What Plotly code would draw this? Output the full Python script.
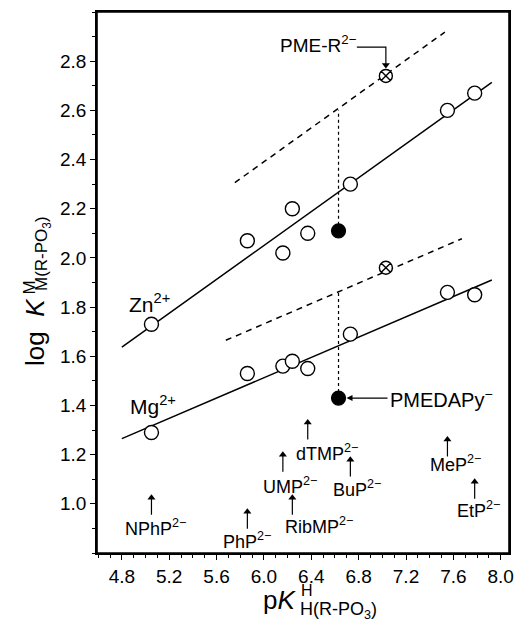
import plotly.graph_objects as go

# ---------------- data ----------------
compounds = ["NPhP", "PhP", "UMP", "RibMP", "dTMP", "BuP", "MeP", "EtP"]
pk_values = [5.05, 5.86, 6.16, 6.24, 6.37, 6.73, 7.55, 7.78]
logk_zn = [1.73, 2.07, 2.02, 2.20, 2.10, 2.30, 2.60, 2.67]
logk_mg = [1.29, 1.53, 1.56, 1.58, 1.55, 1.69, 1.86, 1.85]

pme_r_pk = [7.03, 7.03]
pme_r_logk = [2.74, 1.96]          # Zn, Mg
pmedapy_pk = [6.63, 6.63]
pmedapy_logk = [2.11, 1.43]        # Zn, Mg

zn_fit_x = [4.80, 7.925]
zn_fit_y = [1.637, 2.714]
zn_ref_x = [5.754, 7.528]
zn_ref_y = [2.306, 2.918]
mg_fit_x = [4.80, 7.925]
mg_fit_y = [1.265, 1.910]
mg_ref_x = [5.678, 7.672]
mg_ref_y = [1.665, 2.078]
zn_drop_y = [2.11, 2.60]
mg_drop_y = [1.43, 1.86]

x_ticks = [4.8, 5.2, 5.6, 6.0, 6.4, 6.8, 7.2, 7.6, 8.0]
y_ticks = [1.0, 1.2, 1.4, 1.6, 1.8, 2.0, 2.2, 2.4, 2.6, 2.8]

# ---------------- styling ----------------
FONT = "Liberation Sans, Arial, Helvetica, sans-serif"
BLACK = "#000000"
W, H = 518, 621
ML, MR, MT, MB = 97, 9, 12, 68
PW, PH = W - ML - MR, H - MT - MB
X_RANGE = [4.59, 8.07]
Y_RANGE = [0.8, 3.0]
Y_PER_PX = (Y_RANGE[1] - Y_RANGE[0]) / PH


def px_x(p):
    return (p - ML) / PW


def px_y(p):
    return (H - MB - p) / PH


fig = go.Figure()

line_sets = [
    (zn_fit_x, zn_fit_y, "solid"),
    (zn_ref_x, zn_ref_y, "dash"),
    (mg_fit_x, mg_fit_y, "solid"),
    (mg_ref_x, mg_ref_y, "dash"),
]
for lx, ly, dash in line_sets:
    fig.add_trace(go.Scatter(x=lx, y=ly, mode="lines",
                             line=dict(color=BLACK, width=1.5,
                                       dash="6px,5px" if dash == "dash" else "solid"),
                             hoverinfo="skip", showlegend=False))

for dy in (zn_drop_y, mg_drop_y):
    fig.add_trace(go.Scatter(x=[pmedapy_pk[0], pmedapy_pk[0]], y=dy, mode="lines",
                             line=dict(color=BLACK, width=1.2, dash="dot"),
                             hoverinfo="skip", showlegend=False))

TRI = 7            # arrow-head marker size (px)
TIP = 0.58 * TRI   # distance from marker centre to its tip (px)

# PME-R bent arrow (horizontal then down onto the crossed circle)
pme_tip = pme_r_logk[0] + 7 * Y_PER_PX
fig.add_trace(go.Scatter(x=[6.785, pme_r_pk[0], pme_r_pk[0]],
                         y=[2.857, 2.857, pme_tip + TIP * Y_PER_PX],
                         mode="lines", line=dict(color=BLACK, width=1.2),
                         hoverinfo="skip", showlegend=False))
fig.add_trace(go.Scatter(x=[pme_r_pk[0]], y=[pme_tip + TIP * Y_PER_PX], mode="markers",
                         marker=dict(symbol="triangle-down", size=TRI, color=BLACK,
                                     line=dict(width=0)),
                         hoverinfo="skip", showlegend=False))

# compound arrows: (arrow tip y, text x, text y)
label_pos = {
    "NPhP": (1.041, 5.087, 0.902),
    "PhP": (0.984, 5.856, 0.849),
    "UMP": (1.216, 6.219, 1.073),
    "RibMP": (1.041, 6.464, 0.910),
    "dTMP": (1.347, 6.531, 1.208),
    "BuP": (1.196, 6.785, 1.061),
    "MeP": (1.278, 7.621, 1.163),
    "EtP": (1.106, 7.815, 0.976),
}
head_x, head_y = [], []
for name, pk in zip(compounds, pk_values):
    tip = label_pos[name][0]
    centre = tip - TIP * Y_PER_PX
    fig.add_trace(go.Scatter(x=[pk, pk], y=[tip - 21 * Y_PER_PX, centre],
                             mode="lines", line=dict(color=BLACK, width=1.2),
                             hoverinfo="skip", showlegend=False))
    head_x.append(pk)
    head_y.append(centre)
fig.add_trace(go.Scatter(x=head_x, y=head_y, mode="markers",
                         marker=dict(symbol="triangle-up", size=TRI, color=BLACK,
                                     line=dict(width=0)),
                         hoverinfo="skip", showlegend=False))

fig.add_trace(go.Scatter(x=pk_values, y=logk_zn, mode="markers",
                         marker=dict(symbol="circle", size=14, color="white",
                                     line=dict(width=1.4, color=BLACK)),
                         showlegend=False))
fig.add_trace(go.Scatter(x=pk_values, y=logk_mg, mode="markers",
                         marker=dict(symbol="circle", size=14, color="white",
                                     line=dict(width=1.4, color=BLACK)),
                         showlegend=False))
fig.add_trace(go.Scatter(x=pme_r_pk, y=pme_r_logk, mode="markers",
                         marker=dict(symbol="circle-x", size=13, color="white",
                                     line=dict(width=1.4, color=BLACK)),
                         showlegend=False))
fig.add_trace(go.Scatter(x=pmedapy_pk, y=pmedapy_logk, mode="markers",
                         marker=dict(symbol="circle", size=14, color=BLACK,
                                     line=dict(width=1.2, color=BLACK)),
                         showlegend=False))

ann = []
for name in compounds:
    _, tx, ty = label_pos[name]
    ann.append(dict(x=tx, y=ty, xref="x", yref="y", showarrow=False,
                    text=name + "<sup>2\u2212</sup>",
                    font=dict(family=FONT, size=18, color=BLACK),
                    xanchor="center", yanchor="middle"))

# metal ion labels
ann.append(dict(x=5.036, y=1.816, xref="x", yref="y", text="Zn<sup>2+</sup>", showarrow=False,
                font=dict(family=FONT, size=21, color=BLACK), xanchor="center", yanchor="middle"))
ann.append(dict(x=5.062, y=1.40, xref="x", yref="y", text="Mg<sup>2+</sup>", showarrow=False,
                font=dict(family=FONT, size=21, color=BLACK), xanchor="center", yanchor="middle"))

# PME-R label
ann.append(dict(x=6.464, y=2.869, xref="x", yref="y", text="PME-R<sup>2\u2212</sup>", showarrow=False,
                font=dict(family=FONT, size=19, color=BLACK), xanchor="center", yanchor="middle"))

# PMEDAPy label + arrow
ann.append(dict(x=pmedapy_pk[1], y=pmedapy_logk[1], xref="x", yref="y",
                text="PMEDAPy<sup>\u2212</sup>", showarrow=True, ax=49, ay=0,
                xanchor="left", yanchor="middle", standoff=8,
                arrowhead=2, arrowsize=1, arrowwidth=1.2, arrowcolor=BLACK,
                font=dict(family=FONT, size=20, color=BLACK)))

# axis titles built from pieces (stacked super/subscripts)
ann.append(dict(x=px_x(298), y=px_y(600), xref="paper", yref="paper", showarrow=False,
                text="p<i>K</i>", font=dict(family=FONT, size=26, color=BLACK),
                xanchor="right", yanchor="middle"))
ann.append(dict(x=px_x(299), y=px_y(590), xref="paper", yref="paper", showarrow=False,
                text="H", font=dict(family=FONT, size=16, color=BLACK),
                xanchor="left", yanchor="middle"))
ann.append(dict(x=px_x(298), y=px_y(610), xref="paper", yref="paper", showarrow=False,
                text="H(R-PO<sub>3</sub>)", font=dict(family=FONT, size=18, color=BLACK),
                xanchor="left", yanchor="middle"))

ann.append(dict(x=px_x(35), y=px_y(332), xref="paper", yref="paper", showarrow=False,
                text="log\u00a0\u00a0<i>K</i>", textangle=-90,
                font=dict(family=FONT, size=26, color=BLACK),
                xanchor="center", yanchor="middle"))
ann.append(dict(x=px_x(28.5), y=px_y(288), xref="paper", yref="paper", showarrow=False,
                text="M", textangle=-90, font=dict(family=FONT, size=17, color=BLACK),
                xanchor="center", yanchor="middle"))
ann.append(dict(x=px_x(43), y=px_y(254), xref="paper", yref="paper", showarrow=False,
                text="M(R-PO<sub>3</sub>)", textangle=-90, font=dict(family=FONT, size=17, color=BLACK),
                xanchor="center", yanchor="middle"))

axis_common = dict(showgrid=False, zeroline=False, showline=True, linecolor=BLACK, linewidth=1.6,
                   mirror=True, ticks="outside", ticklen=5, tickwidth=1.2, tickcolor=BLACK,
                   tickfont=dict(family=FONT, size=19, color=BLACK))

fig.update_layout(
    width=W, height=H,
    margin=dict(l=ML, r=MR, t=MT, b=MB, autoexpand=False),
    paper_bgcolor="white", plot_bgcolor="white",
    showlegend=False,
    annotations=ann,
    shapes=[dict(type="rect", xref="paper", yref="paper", x0=0, x1=1, y0=0, y1=1,
                 line=dict(color=BLACK, width=1.6), fillcolor="rgba(0,0,0,0)", layer="above")],
    xaxis=dict(range=X_RANGE, tickvals=x_ticks, ticktext=[f"{v:.1f}" for v in x_ticks],
               minor=dict(dtick=0.1, tick0=4.8, ticks="outside", ticklen=3, tickcolor=BLACK),
               **axis_common),
    yaxis=dict(range=Y_RANGE, tickvals=y_ticks, ticktext=[f"{v:.1f}" for v in y_ticks],
               minor=dict(dtick=0.1, tick0=0.8, ticks="outside", ticklen=3, tickcolor=BLACK),
               **axis_common),
)

fig.write_html("out.html", config={"displayModeBar": False},
               post_script="document.body.style.margin='0';document.body.style.padding='0';")
